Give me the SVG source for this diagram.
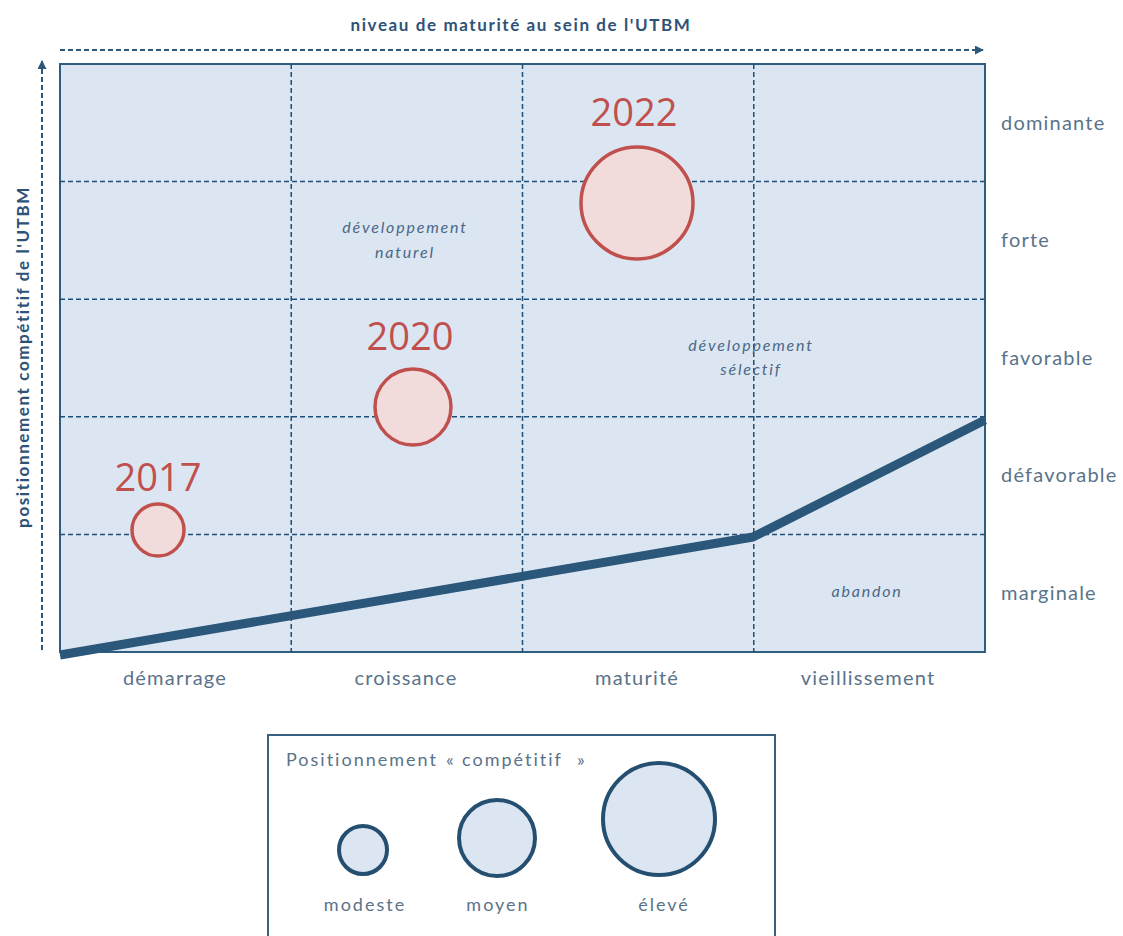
<svg xmlns="http://www.w3.org/2000/svg" width="1123" height="936" viewBox="0 0 1123 936">
  <defs>
    <marker id="arrow" viewBox="0 0 10 10" refX="9" refY="5" markerWidth="4.5" markerHeight="4.5" orient="auto" markerUnits="strokeWidth">
      <path d="M0,0 L10,5 L0,10 z" fill="#2b587a"/>
    </marker>
    <style>
      .axis { stroke: #2b587a; stroke-width: 2; stroke-dasharray: 5 3; fill: none; }
      .grid { stroke: #1f4e79; stroke-width: 1.5; stroke-dasharray: 5 3; fill: none; }
      .frame { fill: #dce6f2; stroke: #2e5d80; stroke-width: 2; }
      .axtitle { font-family: Lato, "Open Sans", "Liberation Sans", sans-serif; font-weight: bold; font-size: 17px; letter-spacing: 1.6px; fill: #2e5378; }
      .lbl { font-family: Lato, "Open Sans", "Liberation Sans", sans-serif; font-size: 20px; letter-spacing: 1.2px; fill: #5a7389; }
      .leg { font-family: Lato, "Open Sans", "Liberation Sans", sans-serif; font-size: 18px; letter-spacing: 2px; fill: #5a7389; }
      .zone { font-family: Lato, "Open Sans", "Liberation Sans", sans-serif; font-style: italic; font-size: 16px; letter-spacing: 1.8px; fill: #4a6887; text-anchor: middle; }
      .year { font-family: "Open Sans", Lato, "Liberation Sans", sans-serif; font-size: 38px; fill: #c0504d; text-anchor: middle; }
      .bubble { fill: #f2dcdb; stroke: #c0504d; stroke-width: 3.5; }
      .legend-c { fill: #dce6f2; stroke: #244f70; stroke-width: 4; }
      .mid { text-anchor: middle; }
    </style>
  </defs>

  <!-- axes -->
  <g id="axes">
    <line class="axis" x1="60" y1="50" x2="983" y2="50" marker-end="url(#arrow)"/>
    <line class="axis" x1="42" y1="650" x2="42" y2="61" marker-end="url(#arrow)"/>
    <text class="axtitle mid" x="521" y="31">niveau de maturité au sein de l'UTBM</text>
    <text class="axtitle mid" transform="translate(29 357) rotate(-90)">positionnement compétitif de l'UTBM</text>
  </g>

  <!-- matrix -->
  <g id="matrix">
    <rect class="frame" x="60" y="64" width="925" height="588"/>
    <line class="grid" x1="291.25" y1="64" x2="291.25" y2="652"/>
    <line class="grid" x1="522.5" y1="64" x2="522.5" y2="652"/>
    <line class="grid" x1="753.75" y1="64" x2="753.75" y2="652"/>
    <line class="grid" x1="60" y1="181.6" x2="985" y2="181.6"/>
    <line class="grid" x1="60" y1="299.2" x2="985" y2="299.2"/>
    <line class="grid" x1="60" y1="416.8" x2="985" y2="416.8"/>
    <line class="grid" x1="60" y1="534.4" x2="985" y2="534.4"/>
  </g>

  <!-- row labels -->
  <g id="rows">
    <text class="lbl" x="1001" y="130">dominante</text>
    <text class="lbl" x="1001" y="247">forte</text>
    <text class="lbl" x="1001" y="365">favorable</text>
    <text class="lbl" x="1001" y="482">défavorable</text>
    <text class="lbl" x="1001" y="600">marginale</text>
  </g>

  <!-- column labels -->
  <g id="columns">
    <text class="lbl mid" x="175" y="685">démarrage</text>
    <text class="lbl mid" x="406" y="685">croissance</text>
    <text class="lbl mid" x="637" y="685">maturité</text>
    <text class="lbl mid" x="868" y="685">vieillissement</text>
  </g>

  <!-- zone labels -->
  <g id="zones">
    <text class="zone" x="405" y="233">développement</text>
    <text class="zone" x="405" y="258">naturel</text>
    <text class="zone" x="751" y="351">développement</text>
    <text class="zone" x="751" y="375">sélectif</text>
    <text class="zone" x="867" y="597">abandon</text>
  </g>

  <!-- threshold curve -->
  <g id="connectors">
    <polyline points="60,655 753,537 985,420" fill="none" stroke="#2b587a" stroke-width="9" stroke-linejoin="round"/>
  </g>

  <!-- yearly positions -->
  <g id="y2017">
    <circle class="bubble" cx="158" cy="530" r="26"/>
    <text class="year" x="158" y="491">2017</text>
  </g>
  <g id="y2020">
    <circle class="bubble" cx="413" cy="407" r="38"/>
    <text class="year" x="410" y="350">2020</text>
  </g>
  <g id="y2022">
    <circle class="bubble" cx="637" cy="203" r="56"/>
    <text class="year" x="634" y="126">2022</text>
  </g>

  <!-- legend -->
  <g id="legend">
    <rect x="268" y="735" width="507" height="220" fill="#ffffff" stroke="#3a6080" stroke-width="2"/>
    <text class="leg" y="766"><tspan x="286">Positionnement</tspan><tspan x="446">«</tspan><tspan x="462">compétitif</tspan><tspan x="577">»</tspan></text>
    <circle class="legend-c" cx="363" cy="850" r="24"/>
    <circle class="legend-c" cx="497" cy="838" r="38"/>
    <circle class="legend-c" cx="659" cy="819" r="56"/>
    <text class="leg mid" x="365" y="911">modeste</text>
    <text class="leg mid" x="498" y="911">moyen</text>
    <text class="leg mid" x="664" y="911">élevé</text>
  </g>
</svg>
